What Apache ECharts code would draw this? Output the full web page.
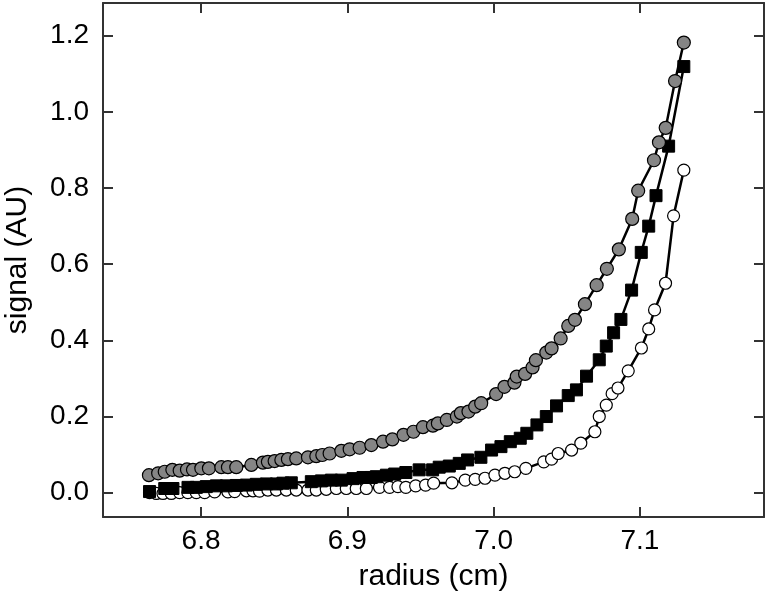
<!DOCTYPE html>
<html>
<head>
<meta charset="utf-8">
<script src="https://cdn.jsdelivr.net/npm/echarts@6/dist/echarts.min.js"></script>
<style>
html,body{margin:0;padding:0;background:#fff;}
#main{width:767px;height:601px;}
</style>
</head>
<body>
<div id="main"></div>
<script>
// gray circles
var grayR = [6.7644, 6.7707, 6.7752, 6.7804, 6.7854, 6.7904, 6.7945, 6.8002, 6.8054, 6.8139, 6.8184, 6.8241, 6.8344, 6.8423, 6.8457, 6.8503, 6.8549, 6.8594, 6.8651, 6.8731, 6.8788, 6.8829, 6.8879, 6.8959, 6.9016, 6.9084, 6.9164, 6.9244, 6.9308, 6.9384, 6.9452, 6.9517, 6.9585, 6.9619, 6.968, 6.9749, 6.9776, 6.9828, 6.9874, 6.9915, 7.0017, 7.0074, 7.0142, 7.0158, 7.0215, 7.0266, 7.0289, 7.036, 7.0396, 7.0458, 7.051, 7.0556, 7.0624, 7.0704, 7.0774, 7.0856, 7.0947, 7.0988, 7.1096, 7.113, 7.1176, 7.124, 7.130];
var graySig = [0.046, 0.051, 0.055, 0.060, 0.058, 0.061, 0.060, 0.064, 0.064, 0.067, 0.067, 0.067, 0.073, 0.079, 0.081, 0.083, 0.086, 0.088, 0.090, 0.093, 0.096, 0.099, 0.103, 0.110, 0.114, 0.118, 0.125, 0.134, 0.140, 0.152, 0.160, 0.172, 0.176, 0.182, 0.191, 0.200, 0.209, 0.213, 0.226, 0.235, 0.259, 0.278, 0.289, 0.305, 0.312, 0.329, 0.348, 0.368, 0.379, 0.405, 0.438, 0.454, 0.495, 0.545, 0.588, 0.639, 0.719, 0.793, 0.873, 0.920, 0.958, 1.081, 1.182];

// black squares
var blackR = [6.7648, 6.7752, 6.7808, 6.7911, 6.7968, 6.8036, 6.8105, 6.8173, 6.8241, 6.831, 6.8378, 6.8447, 6.8515, 6.856, 6.8617, 6.8754, 6.8823, 6.8891, 6.8959, 6.9039, 6.9107, 6.9164, 6.9198, 6.9267, 6.9324, 6.94, 6.9491, 6.9583, 6.9628, 6.9697, 6.9765, 6.9822, 6.9913, 6.9986, 7.005, 7.0114, 7.0182, 7.0227, 7.0296, 7.036, 7.043, 7.051, 7.0566, 7.0635, 7.0722, 7.077, 7.082, 7.087, 7.0943, 7.1009, 7.106, 7.111, 7.1196, 7.130];
var blackSig = [0.003, 0.011, 0.011, 0.014, 0.014, 0.016, 0.018, 0.018, 0.019, 0.020, 0.022, 0.023, 0.023, 0.025, 0.026, 0.029, 0.031, 0.033, 0.033, 0.037, 0.040, 0.040, 0.042, 0.046, 0.049, 0.053, 0.060, 0.060, 0.067, 0.070, 0.077, 0.086, 0.093, 0.112, 0.121, 0.134, 0.143, 0.156, 0.178, 0.200, 0.228, 0.255, 0.270, 0.306, 0.349, 0.385, 0.420, 0.455, 0.532, 0.631, 0.700, 0.780, 0.910, 1.119];

// open circles
var whiteR = [6.7648, 6.7695, 6.774, 6.7797, 6.7854, 6.791, 6.7968, 6.8025, 6.8093, 6.8184, 6.823, 6.831, 6.8355, 6.84, 6.8457, 6.8515, 6.8583, 6.8651, 6.8731, 6.8788, 6.8856, 6.8925, 6.8993, 6.9061, 6.913, 6.922, 6.9289, 6.9346, 6.94, 6.9467, 6.9535, 6.959, 6.9715, 6.9806, 6.9874, 6.9941, 7.0009, 7.0077, 7.0144, 7.022, 7.0343, 7.0396, 7.0441, 7.0533, 7.0596, 7.0692, 7.0722, 7.077, 7.081, 7.085, 7.092, 7.101, 7.106, 7.110, 7.1175, 7.123, 7.130];
var whiteSig = [0.000, -0.002, -0.002, -0.002, 0.000, 0.000, 0.000, 0.000, 0.002, 0.002, 0.003, 0.005, 0.005, 0.004, 0.007, 0.007, 0.007, 0.007, 0.007, 0.007, 0.009, 0.011, 0.011, 0.011, 0.011, 0.014, 0.014, 0.016, 0.014, 0.018, 0.020, 0.025, 0.026, 0.033, 0.035, 0.038, 0.046, 0.051, 0.055, 0.064, 0.081, 0.088, 0.103, 0.112, 0.130, 0.160, 0.200, 0.230, 0.260, 0.275, 0.320, 0.380, 0.430, 0.480, 0.550, 0.727, 0.847];

var xTicks = [6.8, 6.9, 7.0, 7.1];
var yTicks = [0.0, 0.2, 0.4, 0.6, 0.8, 1.0, 1.2];

function pairs(xs, ys){
	var out = [];
	for (var i = 0; i < xs.length; i++) out.push([xs[i], ys[i]]);
	return out;
}

var font = 'Liberation Sans, Arial, sans-serif';
var axisColor = '#333';

function xAx(pos, showLabel){
	return {
		type: 'value', position: pos, min: 6.733, max: 7.1848,
		name: showLabel ? 'radius (cm)' : '', nameLocation: 'middle', nameGap: 45,
		nameTextStyle: { fontSize: 30, color: '#000', fontFamily: font },
		axisLine: { show: true, onZero: false, lineStyle: { color: axisColor, width: 2 } },
		axisTick: { show: true, inside: true, length: 10, customValues: xTicks, lineStyle: { color: axisColor, width: 2 } },
		axisLabel: { show: showLabel, customValues: xTicks, margin: 10, fontSize: 28, color: '#000', fontFamily: font,
			formatter: function(v){ return v.toFixed(1); } },
		splitLine: { show: false }
	};
}
function yAx(pos, showLabel){
	return {
		type: 'value', position: pos, min: -0.0638, max: 1.2859,
		name: showLabel ? 'signal (AU)' : '', nameLocation: 'middle', nameGap: 70,
		nameTextStyle: { fontSize: 30, color: '#000', fontFamily: font },
		axisLine: { show: true, onZero: false, lineStyle: { color: axisColor, width: 2 } },
		axisTick: { show: true, inside: true, length: 10, customValues: yTicks, lineStyle: { color: axisColor, width: 2 } },
		axisLabel: { show: showLabel, customValues: yTicks, margin: 14, fontSize: 28, color: '#000', fontFamily: font,
			formatter: function(v){ return v.toFixed(1); } },
		splitLine: { show: false }
	};
}

var myChart = echarts.init(document.getElementById('main'));
var option = {
	animation: false,
	backgroundColor: '#fff',
	grid: { left: 103, right: 3, top: 3, bottom: 84, containLabel: false, outerBoundsMode: 'none' },
	xAxis: [xAx('bottom', true), xAx('top', false)],
	yAxis: [yAx('left', true), yAx('right', false)],
	series: [
		{
			type: 'line', data: pairs(whiteR, whiteSig),
			symbol: 'circle', symbolSize: 12,
			lineStyle: { color: '#000', width: 2.5 },
			itemStyle: { color: '#fff', borderColor: '#000', borderWidth: 1.2 }
		},
		{
			type: 'line', data: pairs(blackR, blackSig),
			symbol: 'rect', symbolSize: 12,
			lineStyle: { color: '#000', width: 2.5 },
			itemStyle: { color: '#000', borderColor: '#000', borderWidth: 1 }
		},
		{
			type: 'line', data: pairs(grayR, graySig),
			symbol: 'circle', symbolSize: 13,
			lineStyle: { color: '#000', width: 2.5 },
			itemStyle: { color: '#858585', borderColor: '#000', borderWidth: 1.2 }
		}
	]
};
myChart.setOption(option);
</script>
</body>
</html>
